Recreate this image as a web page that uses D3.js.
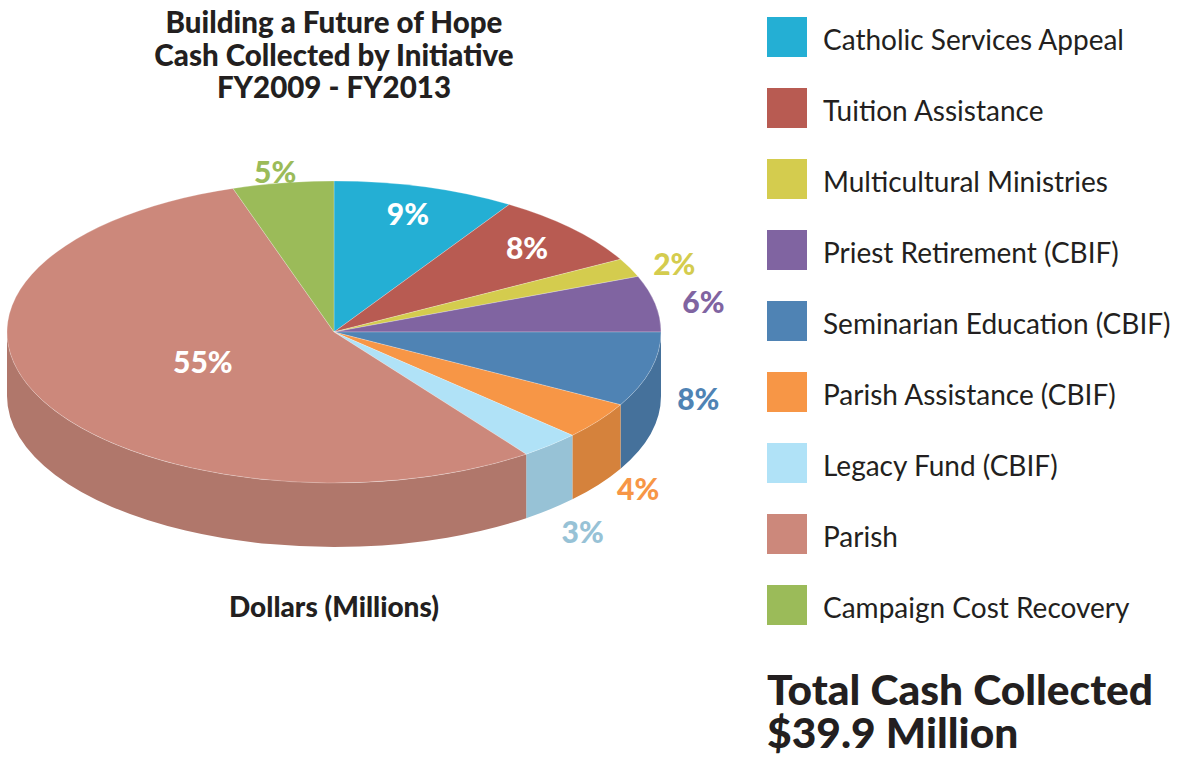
<!DOCTYPE html>
<html>
<head>
  <meta charset="UTF-8">
  <title>Building a Future of Hope</title>
  <style>
    body { margin: 0; background: #fff; }
    text { font-family: Lato, "Open Sans", sans-serif; fill: #231f20; }
  </style>
</head>
<body>
  <svg id="chart" width="1181" height="757"></svg>
  <script src="https://d3js.org/d3.v7.min.js"></script>
  <script>
    /// data
    var initiatives = ["Catholic Services Appeal", "Tuition Assistance", "Multicultural Ministries",
      "Priest Retirement (CBIF)", "Seminarian Education (CBIF)", "Parish Assistance (CBIF)",
      "Legacy Fund (CBIF)", "Parish", "Campaign Cost Recovery"];
    var percents = [9, 8, 2, 6, 8, 4, 3, 55, 5];
    var titleLines = ["Building a Future of Hope", "Cash Collected by Initiative", "FY2009 - FY2013"];
    var totalLines = ["Total Cash Collected", "$39.9 Million"];

    /// styles
    var topColors  = ["#24afd4", "#b85b52", "#d4cc4e", "#8064a1", "#4f83b4", "#f79646", "#b0e2f7", "#cc887b", "#9bbb59"];
    var sideColors = ["#1d8fae", "#974a43", "#aea83f", "#695284", "#45719b", "#d5823c", "#97c2d6", "#b0776b", "#80994a"];
    var labelColors = ["#fff", "#fff", "#d4cc4e", "#8064a1", "#4f83b4", "#f79646", "#97c2d6", "#fff", "#9bbb59"];
    var labelInside = [true, true, false, false, false, false, false, true, false];

    var svg = d3.select("#chart");

    // pie geometry (ellipse + depth)
    var cx = 334, cy = 332, rx = 327, ry = 151, depth = 64;
    var k = ry / rx;

    var data = initiatives.map(function(d, i) { return {name: d, value: percents[i], i: i}; });
    var arcs = d3.pie().sort(null).value(function(d) { return d.value; })(data);

    var pieG = svg.append("g")
      .attr("transform", "translate(" + cx + "," + cy + ") scale(1," + k + ")");

    // side walls, only the front half (angles pi/2 .. 3pi/2) is visible
    var D = depth / k;
    arcs.forEach(function(a) {
      var s = Math.max(a.startAngle, Math.PI / 2),
          e = Math.min(a.endAngle, 3 * Math.PI / 2);
      if (s >= e) return;
      var p = d3.path();
      p.moveTo(rx * Math.cos(s - Math.PI / 2), rx * Math.sin(s - Math.PI / 2));
      p.arc(0, 0, rx, s - Math.PI / 2, e - Math.PI / 2, false);
      p.lineTo(rx * Math.cos(e - Math.PI / 2), rx * Math.sin(e - Math.PI / 2) + D);
      p.arc(0, D, rx, e - Math.PI / 2, s - Math.PI / 2, true);
      p.closePath();
      pieG.append("path")
        .attr("d", p.toString())
        .attr("fill", sideColors[a.data.i]);
    });

    // top faces
    var arcGen = d3.arc().innerRadius(0).outerRadius(rx);
    pieG.selectAll("path.top")
      .data(arcs)
      .enter().append("path")
        .attr("class", "top")
        .attr("d", arcGen)
        .attr("fill", function(d) { return topColors[d.data.i]; })
        .attr("stroke", "#fff")
        .attr("stroke-opacity", 0.4)
        .attr("stroke-width", 0.6)
        .attr("vector-effect", "non-scaling-stroke");

    // percent labels
    svg.append("g").selectAll("text")
      .data(arcs)
      .enter().append("text")
        .attr("text-anchor", "middle")
        .attr("dominant-baseline", "central")
        .style("font-size", "30px")
        .style("font-weight", 900)
        .style("fill", function(d) { return labelColors[d.data.i]; })
        .attr("x", function(d) {
          var m = (d.startAngle + d.endAngle) / 2;
          var f = labelInside[d.data.i] ? (d.value > 30 ? 0.45 : 0.81) : 1.15;
          return cx + f * rx * Math.sin(m);
        })
        .attr("y", function(d) {
          var m = (d.startAngle + d.endAngle) / 2;
          if (labelInside[d.data.i]) {
            var f = d.value > 30 ? 0.42 : 0.82;
            return cy - f * ry * Math.cos(m);
          }
          return cy - 1.08 * ry * Math.cos(m) + depth * Math.max(0, -Math.cos(m)) * 1.6;
        })
        .text(function(d) { return d.value + "%"; });

    // title
    svg.append("text")
      .attr("x", cx)
      .attr("text-anchor", "middle")
      .style("font-size", "29.5px")
      .style("font-weight", 900)
      .selectAll("tspan")
      .data(titleLines)
      .enter().append("tspan")
        .attr("x", cx)
        .attr("y", function(d, i) { return 33 + i * 32.5; })
        .text(function(d) { return d; });

    svg.append("text")
      .attr("x", cx)
      .attr("y", 617)
      .attr("text-anchor", "middle")
      .style("font-size", "28px")
      .style("font-weight", 900)
      .text("Dollars (Millions)");

    // legend
    var legend = svg.append("g").attr("transform", "translate(767,17)");
    var item = legend.selectAll("g")
      .data(data)
      .enter().append("g")
        .attr("transform", function(d, i) { return "translate(0," + (i * 71) + ")"; });
    item.append("rect")
      .attr("width", 40)
      .attr("height", 40)
      .attr("fill", function(d) { return topColors[d.i]; });
    item.append("text")
      .attr("x", 56)
      .attr("y", 33)
      .style("font-size", "28px")
      .text(function(d) { return d.name; });

    // total
    svg.append("g").selectAll("text")
      .data(totalLines)
      .enter().append("text")
        .attr("x", 767)
        .attr("y", function(d, i) { return 705 + i * 43; })
        .style("font-size", "42.5px")
        .style("font-weight", 900)
        .text(function(d) { return d; });
  </script>
</body>
</html>
